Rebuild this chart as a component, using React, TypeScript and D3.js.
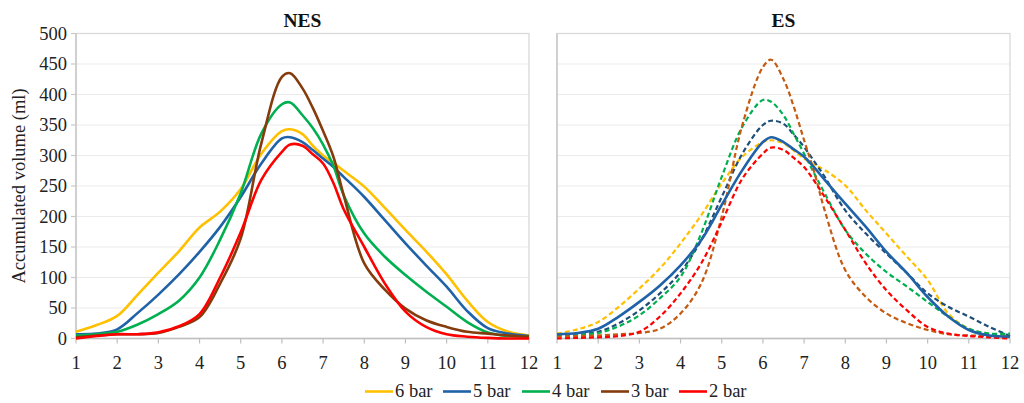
import React from "react";
import * as d3 from "d3";

// x positions (month-like index) at which values were read
const X = [1, 1.5, 2, 2.5, 3, 3.5, 4, 4.5, 5, 5.5, 6, 6.2, 6.5, 6.75, 7, 7.25, 7.5, 8, 8.5, 9, 9.5, 10, 10.5, 11, 11.5, 12];

// NES panel
const nes6 = [11, 22, 37, 72, 108, 143, 182, 208, 245, 303, 340, 343, 335, 316, 300, 288, 275, 249, 214, 178, 143, 105, 62, 27, 11, 5];
const nes5 = [7, 8, 15, 42, 72, 105, 142, 183, 232, 287, 328, 330, 322, 309, 295, 281, 265, 232, 194, 156, 120, 85, 45, 17, 8, 4];
const nes4 = [5, 7, 11, 23, 40, 62, 100, 162, 238, 336, 384, 387, 366, 345, 318, 283, 235, 172, 134, 104, 77, 52, 27, 10, 4, 3];
const nes3 = [2, 5, 7, 7, 9, 19, 35, 90, 164, 320, 429, 435, 410, 378, 340, 298, 235, 123, 80, 49, 30, 19, 11, 8, 5, 3];
const nes2 = [0, 4, 7, 7, 10, 20, 40, 100, 174, 260, 306, 318, 316, 302, 287, 255, 212, 150, 90, 44, 19, 7, 3, 1, 0, 0];

// ES panel
const es5solid = [7, 9, 16, 36, 60, 87, 120, 161, 219, 276, 322, 330, 322, 310, 298, 280, 260, 221, 183, 142, 107, 68, 36, 14, 5, 3];
const es6 = [8, 15, 27, 52, 82, 115, 156, 202, 254, 298, 322, 325, 320, 308, 295, 285, 276, 251, 210, 172, 134, 96, 41, 16, 8, 4];
const es5 = [5, 7, 11, 25, 46, 74, 109, 161, 232, 303, 350, 357, 352, 334, 314, 290, 265, 210, 172, 139, 107, 74, 52, 36, 19, 4];
const es4 = [5, 7, 9, 20, 38, 66, 101, 172, 265, 347, 391, 388, 366, 335, 303, 270, 238, 178, 139, 109, 85, 60, 36, 16, 8, 8];
const es3 = [3, 4, 5, 7, 9, 16, 41, 90, 200, 350, 445, 457, 425, 380, 325, 272, 210, 112, 68, 41, 25, 14, 7, 5, 4, 3];
const es2 = [0, 1, 2, 4, 11, 36, 74, 123, 191, 262, 303, 313, 309, 296, 281, 258, 232, 178, 123, 79, 46, 19, 8, 4, 2, 0];

const xTicks = [1, 2, 3, 4, 5, 6, 7, 8, 9, 10, 11, 12];
const yTicks = [0, 50, 100, 150, 200, 250, 300, 350, 400, 450, 500];
const legendLabels = ["6 bar", "5 bar", "4 bar", "3 bar", "2 bar"];
const panelTitles = ["NES", "ES"];
const yLabel = "Accumulated volume (ml)";

const C6 = "#FFC000";
const C5 = "#1F62A8";
const C4 = "#00B050";
const C3 = "#843C0C";
const C2 = "#FF0000";
const C5d = "#1F4E79";
const C3d = "#C55A11";
const legendColors = [C6, C5, C4, C3, C2];

const FONT = "Liberation Serif, Times New Roman, serif";
const FS = 18.5;

const yScale = d3.scaleLinear().domain([0, 500]).range([338.5, 33.5]);

type Series = { values: number[]; color: string; dashed?: boolean };

function Panel({ x0, x1, title, series, showYLabels }: { x0: number; x1: number; title: string; series: Series[]; showYLabels: boolean }) {
  const xScale = d3.scaleLinear().domain([1, 12]).range([x0, x1]);
  const line = d3
    .line<number>()
    .x((_, i) => xScale(X[i]))
    .y((v) => Math.min(yScale(v), yScale(0)))
    .curve(d3.curveCatmullRom.alpha(0.5));
  const top = yScale(500);
  const bottom = yScale(0);
  return (
    <g>
      {yTicks.filter((t) => t > 0).map((t) => (
        <line key={"g" + t} x1={x0} x2={x1} y1={yScale(t)} y2={yScale(t)} stroke="#EBEBEB" strokeWidth={1.2} />
      ))}
      <rect x={x0} y={top} width={x1 - x0} height={bottom - top} fill="none" stroke="#D9D9D9" strokeWidth={1.3} />
      <line x1={x0} x2={x0} y1={top} y2={bottom} stroke="#C8C8C8" strokeWidth={1.5} />
      <line x1={x0} x2={x1} y1={bottom} y2={bottom} stroke="#BFBFBF" strokeWidth={1.3} />
      {xTicks.map((t) => (
        <g key={"x" + t}>
          <line x1={xScale(t)} x2={xScale(t)} y1={bottom} y2={bottom + 5} stroke="#BFBFBF" strokeWidth={1.2} />
          <text x={xScale(t)} y={369} textAnchor="middle" fontSize={FS} style={{ fontFamily: FONT }} fill="#222">
            {t}
          </text>
        </g>
      ))}
      {showYLabels &&
        yTicks.map((t) => (
          <g key={"y" + t}>
            <line x1={x0 - 5} x2={x0} y1={yScale(t)} y2={yScale(t)} stroke="#C8C8C8" strokeWidth={1.2} />
            <text x={x0 - 9} y={yScale(t) + 6} textAnchor="end" fontSize={FS} style={{ fontFamily: FONT }} fill="#222">
              {t}
            </text>
          </g>
        ))}
      {series.map((s, i) => (
        <path
          key={i}
          d={line(s.values) || ""}
          fill="none"
          stroke={s.color}
          strokeWidth={s.dashed ? 2.2 : 2.6}
          strokeDasharray={s.dashed ? "5 3" : undefined}
          strokeLinejoin="round"
        />
      ))}
      <text x={(x0 + x1) / 2} y={27} textAnchor="middle" fontSize={19.5} fontWeight="bold" style={{ fontFamily: FONT }} fill="#111">
        {title}
      </text>
    </g>
  );
}

export default function App() {
  const nesSeries: Series[] = [
    { values: nes6, color: C6 },
    { values: nes5, color: C5 },
    { values: nes4, color: C4 },
    { values: nes3, color: C3 },
    { values: nes2, color: C2 },
  ];
  const esSeries: Series[] = [
    { values: es6, color: C6, dashed: true },
    { values: es5, color: C5d, dashed: true },
    { values: es4, color: C4, dashed: true },
    { values: es3, color: C3d, dashed: true },
    { values: es2, color: C2, dashed: true },
    { values: es5solid, color: C5 },
  ];
  const legendX = [365, 443, 522, 601, 679];
  return (
    <svg width={1024} height={403} style={{ position: "absolute", left: 0, top: 0, background: "#fff" }}>
      <rect x={0} y={0} width={1024} height={403} fill="#fff" />
      <Panel x0={76} x1={529} title={panelTitles[0]} series={nesSeries} showYLabels={true} />
      <Panel x0={557} x1={1010} title={panelTitles[1]} series={esSeries} showYLabels={false} />
      <text
        transform={`translate(25,${186}) rotate(-90)`}
        textAnchor="middle"
        fontSize={FS}
        style={{ fontFamily: FONT }}
        fill="#222"
      >
        {yLabel}
      </text>
      {legendLabels.map((l, i) => (
        <g key={l}>
          <line x1={legendX[i]} x2={legendX[i] + 28} y1={391.5} y2={391.5} stroke={legendColors[i]} strokeWidth={2.6} />
          <text x={legendX[i] + 30} y={397} fontSize={FS} style={{ fontFamily: FONT }} fill="#222">
            {l}
          </text>
        </g>
      ))}
    </svg>
  );
}
